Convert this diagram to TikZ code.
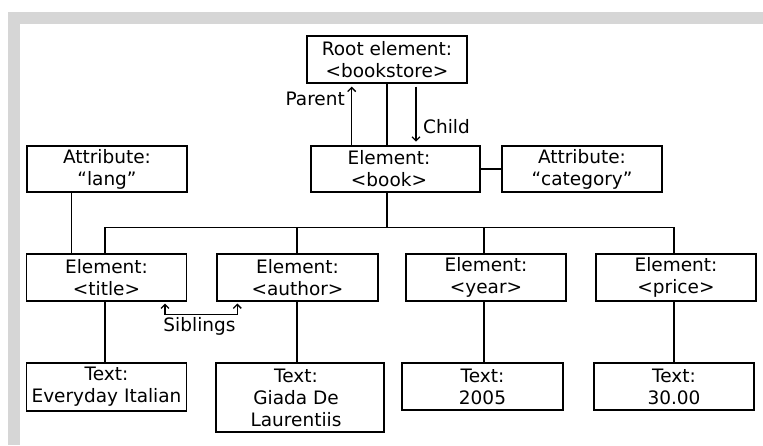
\documentclass[tikz,border=0pt]{standalone}
\usepackage{fontspec}
\setmainfont{DejaVu Sans}
\usetikzlibrary{arrows.meta}
\definecolor{framegray}{HTML}{D6D6D6}
\begin{document}
\begin{tikzpicture}[x=1pt,y=-1pt,
  every node/.style={font=\fontsize{18.5}{22}\selectfont, inner sep=0pt},
  box/.style={draw, line width=1.5pt, align=center, minimum width=160pt, minimum height=47pt},
  txt/.style={align=center},
  link/.style={line width=1.5pt},
  barb/.tip={Straight Barb[length=4pt,width=8pt]},
  tip/.style={line width=1.3pt, -barb}]

\useasboundingbox (0,0) rectangle (763,445);

% page frame
\fill[framegray] (8,12) rectangle (763,24);
\fill[framegray] (8,12) rectangle (20,445);

% root and book
\node[box] (root) at (387,59.5) {Root element:\\<bookstore>};
\node[box, minimum width=169pt, minimum height=46pt] (book) at (395.5,169) {};
\node[txt] (booktxt) at (389,169) {Element:\\<book>};

% attributes
\node[box, minimum height=46pt] (lang) at (107,169) {Attribute:\\“lang”};
\node[box, minimum height=46pt] (category) at (582,169) {Attribute:\\“category”};

% child elements
\node[box] (title)  at (106.5,277.5) {Element:\\<title>};
\node[box, minimum width=161pt] (author) at (297.5,277.5) {Element:\\<author>};
\node[box] (year)   at (486,277.5) {Element:\\<year>};
\node[box] (price)  at (676,277.5) {Element:\\<price>};

% text nodes
\node[box, minimum height=48pt] (t1) at (106.5,387) {Text:\\Everyday Italian};
\node[box, minimum width=168pt, minimum height=69pt] (t2) at (300,397.5) {};
\node[txt] (t2txt) at (296,397.5) {Text:\\Giada De\\Laurentiis};
\node[box, minimum width=161pt] (t3) at (482.5,386.5) {Text:\\2005};
\node[box] (t4) at (674,386.5) {Text:\\30.00};

% connector positions
\coordinate (busL) at (105,227.3);
\coordinate (busR) at (674,227.3);
\coordinate (xa) at (297,227.3);
\coordinate (xy) at (484,227.3);
\coordinate (xl) at (71.7,227.3);

% tree lines
\draw[link] (root.south) -- (root.south |- book.north);
\draw[link] (root.south |- book.south) -- (root.south |- busL);
\draw[link] (book.east) -- (category.west);
\draw[link] (xl |- lang.south) -- (xl |- title.north);
\draw[link] (busL) -- (busR);
\draw[link] (busL) -- (busL |- title.north);
\draw[link] (xa) -- (xa |- author.north);
\draw[link] (xy) -- (xy |- year.north);
\draw[link] (busR) -- (busR |- price.north);
\draw[link] (busL |- title.south) -- (busL |- t1.north);
\draw[link] (xa |- author.south) -- (xa |- t2.north);
\draw[link] (xy |- year.south) -- (xy |- t3.north);
\draw[link] (busR |- price.south) -- (busR |- t4.north);

% parent / child arrows
\coordinate (ptip) at (351.7,86.7);
\coordinate (ctail) at (416,86.7);
\coordinate (ctip) at (416,141.7);
\draw[tip] (ptip |- book.north) -- (ptip);
\draw[tip] (ctail) -- (ctip);
\node[anchor=base east] (parentlbl) at (345,105) {Parent};
\node[anchor=base west] (childlbl) at (423,133.3) {Child};

% siblings arrow
\coordinate (sibL) at (165,303.5);
\coordinate (sibR) at (237.3,303.5);
\coordinate (sibbar) at (200,314.3);
\draw[line width=1.3pt, barb-barb] (sibL) -- (sibL |- sibbar) -- (sibR |- sibbar) -- (sibR);
\node[anchor=base] (siblbl) at (199.5,331.5) {Siblings};

\end{tikzpicture}
\end{document}
